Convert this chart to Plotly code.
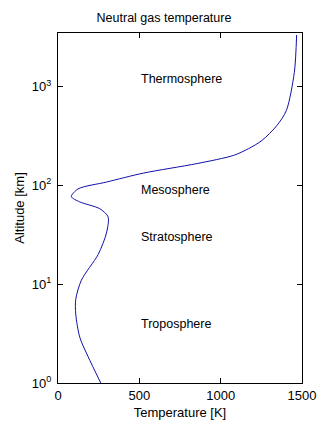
import math
import plotly.graph_objects as go

altitude_km = [1.0, 1.85, 2.9, 5.0, 7.0, 11.0, 20, 33, 48, 58, 68, 77, 92, 108, 133, 166, 201, 235, 285, 404, 573, 1396, 3330]
temperature_K = [263, 185, 134, 109, 109, 144, 247, 298, 308, 257, 134, 82, 123, 298, 524, 853, 1079, 1171, 1254, 1346, 1404, 1453, 1467]

layer_names = ["Thermosphere", "Mesosphere", "Stratosphere", "Troposphere"]
layer_T = [500, 500, 500, 500]
layer_alt = [1200, 90, 30, 4]

x_ticks = [0, 500, 1000, 1500]
y_ticks = [1, 10, 100, 1000]
y_ticktext = ["10<sup>0</sup>", "10<sup>1</sup>", "10<sup>2</sup>", "10<sup>3</sup>"]

FONT = "Liberation Sans, Arial, sans-serif"

fig = go.Figure()
fig.add_trace(go.Scatter(x=temperature_K, y=altitude_km, mode="lines",
                         line=dict(color="#1010a8", width=1, shape="spline", smoothing=0.8),
                         showlegend=False, hoverinfo="skip"))

for name, t, a in zip(layer_names, layer_T, layer_alt):
    fig.add_annotation(x=t, y=math.log10(a), xref="x", yref="y", text=name, showarrow=False,
                       xanchor="left", yanchor="middle",
                       font=dict(family=FONT, size=12.5, color="black"))

fig.update_layout(
    width=328, height=428,
    margin=dict(l=58, r=26, t=33, b=45, autoexpand=False),
    paper_bgcolor="white", plot_bgcolor="white",
    font=dict(family=FONT, size=12, color="black"),
    title=dict(text="Neutral gas temperature", x=0.5, xanchor="center", y=1 - 18/428, yanchor="middle",
               font=dict(family=FONT, size=12.5, color="black")),
)
fig.update_xaxes(range=[0, 1500], tickvals=x_ticks, ticks="inside", ticklen=5, tickcolor="black",
                 showgrid=False, zeroline=False, showline=True, linecolor="black", linewidth=1, mirror="ticks",
                 automargin=False,
                 title=dict(text="Temperature [K]", standoff=6, font=dict(family=FONT, size=13)),
                 tickfont=dict(family=FONT, size=13))
fig.update_yaxes(type="log", range=[0, 3.542], tickvals=y_ticks, ticktext=y_ticktext, ticks="inside", ticklen=5,
                 tickcolor="black", showgrid=False, zeroline=False, showline=True, linecolor="black", linewidth=1,
                 mirror="ticks", ticklabelstandoff=3, automargin=False,
                 title=dict(text="Altitude [km]", standoff=4, font=dict(family=FONT, size=13)),
                 tickfont=dict(family=FONT, size=13))

fig.write_html("out.html")
